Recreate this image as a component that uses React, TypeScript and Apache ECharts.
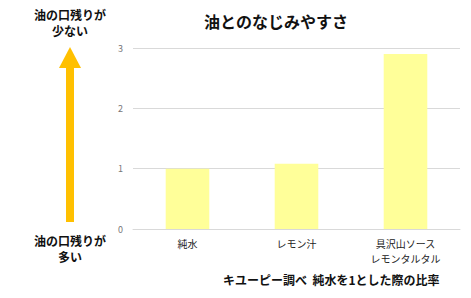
import React, { useEffect, useRef } from "react";
import * as echarts from "echarts";

const categories = ["純水", "レモン汁", "具沢山ソース\nレモンタルタル"];
const values = [1.0, 1.08, 2.9];
const yTicks = [0, 1, 2, 3];
const title = "油とのなじみやすさ";
const topLabel = "油の口残りが\n少ない";
const bottomLabel = "油の口残りが\n多い";
const footnote = "キユーピー調べ  純水を1とした際の比率";

export default function App() {
  const ref = useRef<HTMLDivElement>(null);
  useEffect(() => {
    const chart = echarts.init(ref.current!, null, { renderer: "svg" });
    const font = "'Noto Sans CJK JP', sans-serif";
    chart.setOption({
      animation: false,
      backgroundColor: "#ffffff",
      textStyle: { fontFamily: font },
      title: {
        text: title,
        left: 271,
        top: 8,
        textAlign: "center",
        textStyle: { fontSize: 16, fontWeight: "bold", color: "#111", fontFamily: font },
      },
      grid: { left: 133, right: 11, top: 48, bottom: 69, containLabel: false },
      xAxis: {
        type: "category",
        data: categories,
        axisLine: { show: true, lineStyle: { color: "#d9d9d9" } },
        axisTick: { show: false },
        axisLabel: { color: "#222", fontSize: 10, margin: 7, lineHeight: 15, fontFamily: font },
      },
      yAxis: {
        type: "value",
        min: yTicks[0],
        max: yTicks[yTicks.length - 1],
        interval: 1,
        axisLine: { show: false },
        axisTick: { show: false },
        axisLabel: { color: "#777", fontSize: 9, margin: 10, fontFamily: font },
        splitLine: { lineStyle: { color: "#d9d9d9" } },
      },
      series: [
        {
          type: "bar",
          data: values,
          barWidth: "40%",
          itemStyle: { color: "#ffff99" },
        },
      ],
      graphic: [
        {
          type: "text",
          x: 70,
          y: 6,
          style: {
            text: topLabel,
            fill: "#111",
            font: `bold 12px ${font}`,
            align: "center",
            verticalAlign: "top",
            lineHeight: 16,
          },
        },
        {
          type: "text",
          x: 70,
          y: 232,
          style: {
            text: bottomLabel,
            fill: "#111",
            font: `bold 12px ${font}`,
            align: "center",
            verticalAlign: "top",
            lineHeight: 16,
          },
        },
        {
          type: "rect",
          shape: { x: 66, y: 66, width: 8, height: 156 },
          style: { fill: "#ffc000" },
        },
        {
          type: "polygon",
          shape: { points: [[70, 47], [59, 68], [81, 68]] },
          style: { fill: "#ffc000" },
        },
        {
          type: "text",
          x: 223,
          y: 273,
          style: {
            text: footnote,
            fill: "#111",
            font: `bold 12px ${font}`,
            verticalAlign: "top",
          },
        },
      ],
    });
    return () => chart.dispose();
  }, []);
  return <div ref={ref} style={{ width: 471, height: 298, position: "absolute", left: 0, top: 0 }} />;
}
